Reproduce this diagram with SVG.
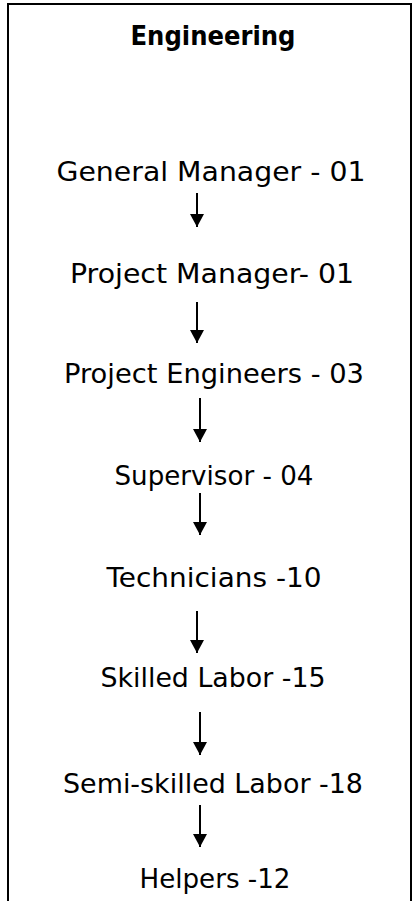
<svg xmlns="http://www.w3.org/2000/svg" width="414" height="901" viewBox="0 0 414 901">
<defs>
<style>
.t{font-family:"DejaVu Sans","Liberation Sans",sans-serif;font-size:27px;fill:#000;text-anchor:middle}
.h{font-family:"DejaVu Sans","Liberation Sans",sans-serif;font-size:27px;font-weight:bold;fill:#000;text-anchor:middle}
.c{stroke:#000;stroke-width:2;fill:none}
.b{stroke:#000;stroke-width:2;fill:none}
</style>
<marker id="ah" markerWidth="16" markerHeight="14" refX="13" refY="7" orient="auto" markerUnits="userSpaceOnUse">
<path d="M0,0 L13,7 L0,14 Z" fill="#000"/>
</marker>
</defs>
<rect width="414" height="901" fill="#fff"/>
<g id="frame">
<path class="b" d="M8,901 L8,4 L411,4 L411,901"/>
</g>
<g id="title"><text class="h" x="213" y="45" textLength="165" lengthAdjust="spacingAndGlyphs">Engineering</text></g>
<g id="n1"><text class="t" x="211" y="181" textLength="309" lengthAdjust="spacingAndGlyphs">General Manager - 01</text></g>
<g id="n2"><text class="t" x="212" y="283" textLength="284" lengthAdjust="spacingAndGlyphs">Project Manager- 01</text></g>
<g id="n3"><text class="t" x="214" y="383" textLength="300" lengthAdjust="spacingAndGlyphs">Project Engineers - 03</text></g>
<g id="n4"><text class="t" x="214" y="485" textLength="199" lengthAdjust="spacingAndGlyphs">Supervisor - 04</text></g>
<g id="n5"><text class="t" x="214" y="587" textLength="215" lengthAdjust="spacingAndGlyphs">Technicians -10</text></g>
<g id="n6"><text class="t" x="213" y="687" textLength="225" lengthAdjust="spacingAndGlyphs">Skilled Labor -15</text></g>
<g id="n7"><text class="t" x="213" y="793" textLength="300" lengthAdjust="spacingAndGlyphs">Semi-skilled Labor -18</text></g>
<g id="n8"><text class="t" x="215" y="888" textLength="151" lengthAdjust="spacingAndGlyphs">Helpers -12</text></g>
<g id="connectors">
<line class="c" x1="197" y1="193" x2="197" y2="227" marker-end="url(#ah)"/>
<line class="c" x1="197" y1="302" x2="197" y2="343" marker-end="url(#ah)"/>
<line class="c" x1="200" y1="398" x2="200" y2="442" marker-end="url(#ah)"/>
<line class="c" x1="200" y1="493" x2="200" y2="535" marker-end="url(#ah)"/>
<line class="c" x1="197" y1="611" x2="197" y2="653" marker-end="url(#ah)"/>
<line class="c" x1="200" y1="712" x2="200" y2="755" marker-end="url(#ah)"/>
<line class="c" x1="200" y1="805" x2="200" y2="847" marker-end="url(#ah)"/>
</g>
</svg>
